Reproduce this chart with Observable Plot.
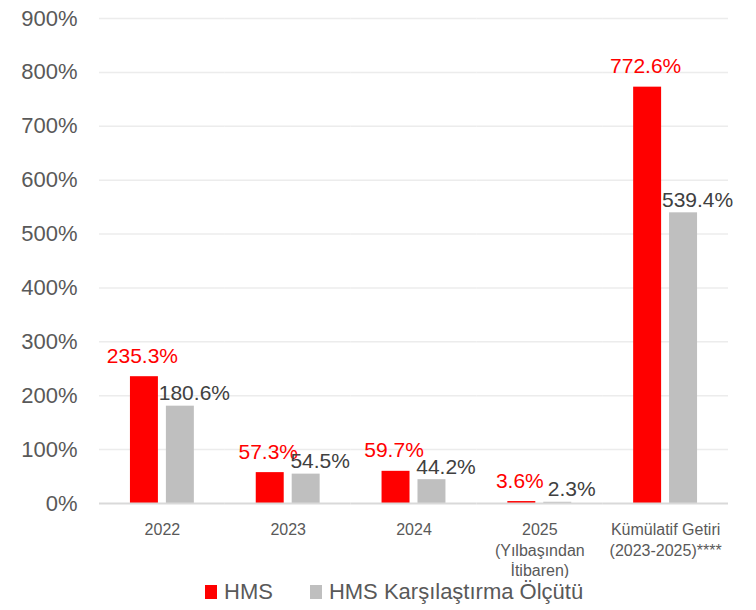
<!DOCTYPE html>
<html>
<head>
<meta charset="utf-8">
<script src="https://cdn.jsdelivr.net/npm/d3@7"></script>
<script src="https://cdn.jsdelivr.net/npm/@observablehq/plot@0.6"></script>
<style>
  body { margin: 0; background: #fff; font-family: "Liberation Sans", Arial, sans-serif; }
  #legend { display: flex; align-items: center; height: 28px; margin-left: 205px; font-size: 22px; color: #595959; }
  .sw { display: inline-block; width: 12px; height: 14px; margin-right: 7px; }
  .item { display: flex; align-items: center; margin-right: 37px; }
</style>
</head>
<body>
<div id="chart"></div>
<div id="legend"></div>
<script>
const categories = ["2022", "2023", "2024", "2025\n(Yılbaşından\nİtibaren)", "Kümülatif Getiri\n(2023-2025)****"];
const seriesNames = ["HMS", "HMS Karşılaştırma Ölçütü"];
const hmsValues = [235.3, 57.3, 59.7, 3.6, 772.6];
const benchValues = [180.6, 54.5, 44.2, 2.3, 539.4];
const yTicks = [0, 100, 200, 300, 400, 500, 600, 700, 800, 900];
const colors = ["#FF0000", "#BFBFBF"];
const labelColors = ["#FF0000", "#404040"];

const data = [];
categories.forEach((c, i) => {
  data.push({cat: c, series: seriesNames[0], value: hmsValues[i]});
  data.push({cat: c, series: seriesNames[1], value: benchValues[i]});
});
const hmsData = data.filter(d => d.series === seriesNames[0]);
const benchData = data.filter(d => d.series === seriesNames[1]);

const chart = Plot.plot({
  width: 756,
  height: 578,
  marginLeft: 99,
  marginRight: 28,
  marginTop: 18,
  marginBottom: 75,
  style: {fontFamily: "'Liberation Sans', Arial, sans-serif", background: "#fff"},
  fx: {domain: categories, padding: 0, round: false, label: null, axis: null},
  x: {domain: seriesNames, paddingInner: 0.222, paddingOuter: 0.861, round: false, axis: null},
  y: {domain: [0, 900], label: null, axis: null},
  color: {domain: seriesNames, range: colors},
  marks: [
    Plot.gridY(yTicks.slice(1), {stroke: "#ececec", strokeOpacity: 1, strokeWidth: 1.5}),
    Plot.axisY(yTicks, {tickSize: 0, tickPadding: 22, tickFormat: d => d + "%", fontSize: 22, fill: "#595959", label: null}),
    Plot.axisFx({anchor: "bottom", tickSize: 0, tickPadding: 17, fontSize: 16, fill: "#595959", lineHeight: 1.28, label: null}),
    Plot.barY(data, {fx: "cat", x: "series", y: "value", fill: "series"}),
    Plot.ruleY([0], {stroke: "#d9d9d9", strokeWidth: 2}),
    Plot.text(hmsData, {fx: "cat", x: "series", y: "value", text: d => d.value.toFixed(1) + "%", lineAnchor: "bottom", dy: -14, dx: -2, fill: labelColors[0], fontSize: 21}),
    Plot.text(benchData, {fx: "cat", x: "series", y: "value", text: d => d.value.toFixed(1) + "%", lineAnchor: "bottom", dy: -6, dx: 14, fill: labelColors[1], fontSize: 21})
  ]
});
document.getElementById("chart").appendChild(chart);

const legend = document.getElementById("legend");
seriesNames.forEach((s, i) => {
  const item = document.createElement("span");
  item.className = "item";
  const sw = document.createElement("span");
  sw.className = "sw";
  sw.style.background = colors[i];
  item.appendChild(sw);
  item.appendChild(document.createTextNode(s));
  legend.appendChild(item);
});
</script>
</body>
</html>
